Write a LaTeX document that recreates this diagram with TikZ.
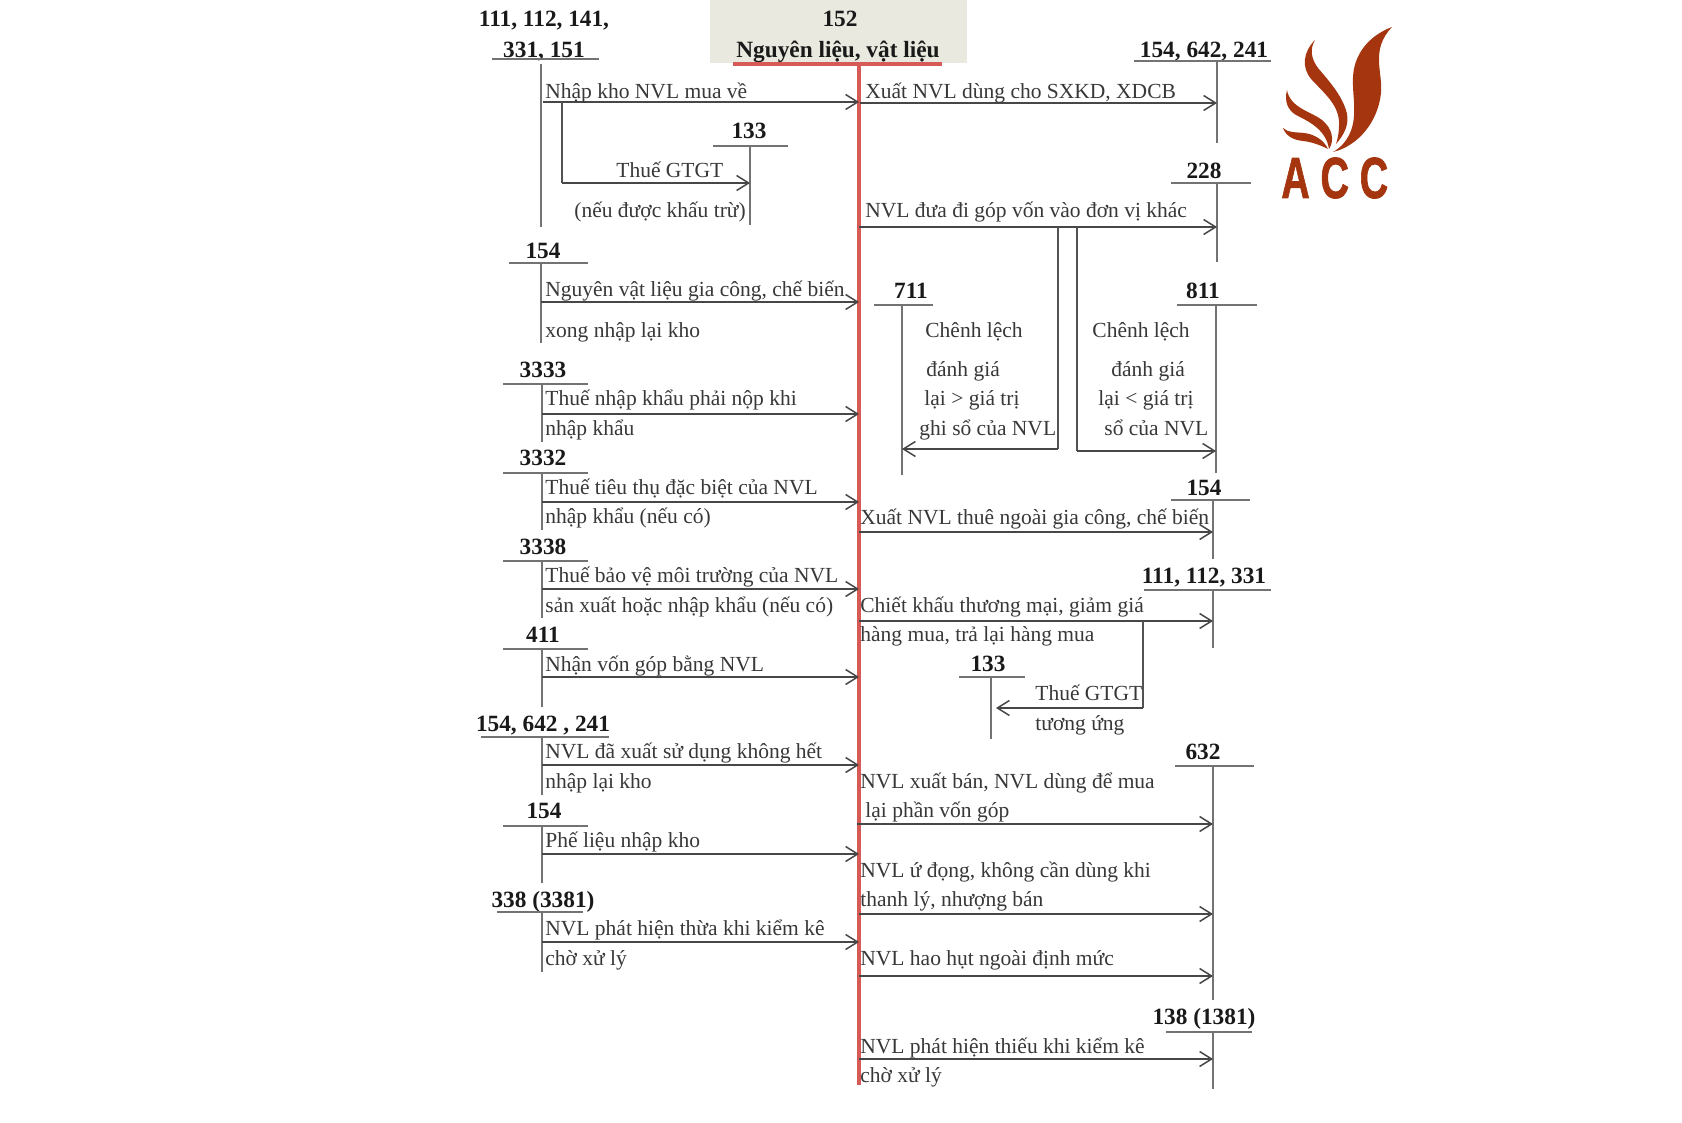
\documentclass[tikz,border=0pt]{standalone}
\usepackage{fontspec}
\setmainfont{Liberation Serif}
\newfontfamily\logofont[BoldFeatures={FakeBold=1.5}]{Liberation Sans}
\usepackage{xcolor}
\usetikzlibrary{arrows.meta}
\definecolor{boxgrey}{HTML}{E9E9DF}
\definecolor{mainred}{HTML}{D65A55}
\definecolor{logored}{HTML}{A5350F}

\begin{document}
\begin{tikzpicture}[
  x=0.5pt, y=-0.5pt,
  font=\fontsize{10.75}{13}\selectfont,
  txt/.style={anchor=base west, inner sep=0pt, text=black!78},
  acct/.style={anchor=base, inner sep=0pt, yshift=-0.7pt, font=\fontsize{11.65}{13}\selectfont\bfseries, text=black!90},
  bar/.style={draw=black!55, line width=0.9pt},
  stem/.style={draw=black!55, line width=0.95pt},
  arr/.style={-{Straight Barb[length=6pt,width=7.5pt]}, draw=black!72, line width=0.75pt},
  lnk/.style={draw=black!68, line width=0.75pt}
]
\useasboundingbox (0,0) rectangle (1682,1123);

% heading of the main account
\fill[boxgrey] (710,0) rectangle (967,63);
\node[acct] (h152) at (840,25) {152};
\node[acct] (hname) at (838,56) {Nguyên liệu, vật liệu};
\draw[mainred, line width=1.6pt] (733,64) -- (942,64);
\draw[mainred, line width=1.9pt] (859,64) coordinate (m) -- (859,1085) coordinate (mend);

% debit side, left of the main account
\node[acct] (a1x) at (544,25) {111, 112, 141,};
\node[acct] (a1) at (544,56) {331, 151};
\draw[bar] (492,59) -- (599,59);
\draw[stem] (541,64) coordinate (s1) -- (541,227) coordinate (e1);
\coordinate (n1) at (543,102);
\draw[arr] (n1) -- (n1 -| m);
\node[txt] (t1) at (545,99) {Nhập kho NVL mua về};

\node[acct] (a2) at (749,137) {133};
\draw[bar] (713,146) -- (788,146);
\draw[stem] (750,146) coordinate (s2) -- (750,225) coordinate (e2);
\coordinate (n2) at (562,102);
\coordinate (n2b) at (562,183);
\draw[lnk] (n2) -- (n2b);
\draw[arr] (n2b) -- (n2b -| s2);
\node[txt] (t2) at (616,178) {Thuế GTGT};
\node[txt] (t2b) at (574,218) {(nếu được khấu trừ)};

\node[acct] (a3) at (543,257) {154};
\draw[bar] (509,263) -- (588,263);
\draw[stem] (541,263) coordinate (s3) -- (541,343) coordinate (e3);
\coordinate (n3) at (541,302);
\draw[arr] (n3) -- (n3 -| m);
\node[txt] (t3) at (545,297) {Nguyên vật liệu gia công, chế biến};
\node[txt] (t3b) at (545,337) {xong nhập lại kho};

\node[acct] (a4) at (543,376) {3333};
\draw[bar] (503,384) -- (588,384);
\draw[stem] (542,384) coordinate (s4) -- (542,442) coordinate (e4);
\coordinate (n4) at (542,414);
\draw[arr] (n4) -- (n4 -| m);
\node[txt] (t4) at (545,406) {Thuế nhập khẩu phải nộp khi};
\node[txt] (t4b) at (545,435) {nhập khẩu};

\node[acct] (a5) at (543,464) {3332};
\draw[bar] (503,473) -- (588,473);
\draw[stem] (542,473) coordinate (s5) -- (542,530) coordinate (e5);
\coordinate (n5) at (542,502);
\draw[arr] (n5) -- (n5 -| m);
\node[txt] (t5) at (545,494) {Thuế tiêu thụ đặc biệt của NVL};
\node[txt] (t5b) at (545,523) {nhập khẩu (nếu có)};

\node[acct] (a6) at (543,553) {3338};
\draw[bar] (503,561) -- (588,561);
\draw[stem] (542,561) coordinate (s6) -- (542,618) coordinate (e6);
\coordinate (n6) at (542,589);
\draw[arr] (n6) -- (n6 -| m);
\node[txt] (t6) at (545,582) {Thuế bảo vệ môi trường của NVL};
\node[txt] (t6b) at (545,612) {sản xuất hoặc nhập khẩu (nếu có)};

\node[acct] (a7) at (543,641) {411};
\draw[bar] (503,649) -- (588,649);
\draw[stem] (542,649) coordinate (s7) -- (542,707) coordinate (e7);
\coordinate (n7) at (542,677);
\draw[arr] (n7) -- (n7 -| m);
\node[txt] (t7) at (545,671) {Nhận vốn góp bằng NVL};

\node[acct] (a8) at (543,730) {154, 642 , 241};
\draw[bar] (481,737) -- (609,737);
\draw[stem] (542,737) coordinate (s8) -- (542,795) coordinate (e8);
\coordinate (n8) at (542,765);
\draw[arr] (n8) -- (n8 -| m);
\node[txt] (t8) at (545,758) {NVL đã xuất sử dụng không hết};
\node[txt] (t8b) at (545,788) {nhập lại kho};

\node[acct] (a9) at (544,817) {154};
\draw[bar] (503,826) -- (588,826);
\draw[stem] (542,826) coordinate (s9) -- (542,883) coordinate (e9);
\coordinate (n9) at (542,854);
\draw[arr] (n9) -- (n9 -| m);
\node[txt] (t9) at (545,847) {Phế liệu nhập kho};

\node[acct] (a10) at (543,906) {338 (3381)};
\draw[bar] (497,912) -- (583,912);
\draw[stem] (542,912) coordinate (s10) -- (542,972) coordinate (e10);
\coordinate (n10) at (542,942);
\draw[arr] (n10) -- (n10 -| m);
\node[txt] (t10) at (545,935) {NVL phát hiện thừa khi kiểm kê};
\node[txt] (t10b) at (545,965) {chờ xử lý};

% credit side, right of the main account
\node[acct] (r1) at (1204,56) {154, 642, 241};
\draw[bar] (1134,61) -- (1271,61);
\draw[stem] (1217,61) coordinate (q1) -- (1217,143) coordinate (z1);
\coordinate (o1) at (860,103);
\draw[arr] (o1) -- (o1 -| q1);
\node[txt] (u1) at (865,99) {Xuất NVL dùng cho SXKD, XDCB};

\node[acct] (r2) at (1204,177) {228};
\draw[bar] (1171,183) -- (1251,183);
\draw[stem] (1217,183) coordinate (q2) -- (1217,262) coordinate (z2);
\coordinate (o2) at (859,227);
\draw[arr] (o2) -- (o2 -| q2);
\node[txt] (u2) at (865,218) {NVL đưa đi góp vốn vào đơn vị khác};

\node[acct] (r3) at (911,297) {711};
\draw[bar] (874,305) -- (933,305);
\draw[stem] (902,305) coordinate (q3) -- (902,475) coordinate (z3);
\coordinate (o3) at (1058,227);
\coordinate (o3b) at (1058,449);
\draw[lnk] (o3) -- (o3b);
\draw[arr] (o3b) -- (o3b -| q3);
\node[txt] (u3a) at (925,337) {Chênh lệch};
\node[txt] (u3b) at (926,377) {đánh giá};
\node[txt] (u3c) at (924,406) {lại > giá trị};
\node[txt] (u3d) at (919,435) {ghi sổ của NVL};

\node[acct] (r4) at (1203,297) {811};
\draw[bar] (1177,305) -- (1257,305);
\draw[stem] (1216,305) coordinate (q4) -- (1216,473) coordinate (z4);
\coordinate (o4) at (1077,227);
\coordinate (o4b) at (1077,451);
\draw[lnk] (o4) -- (o4b);
\draw[arr] (o4b) -- (o4b -| q4);
\node[txt] (u4a) at (1092,337) {Chênh lệch};
\node[txt] (u4b) at (1111,377) {đánh giá};
\node[txt] (u4c) at (1098,406) {lại < giá trị};
\node[txt] (u4d) at (1104,435) {sổ của NVL};

\node[acct] (r5) at (1204,494) {154};
\draw[bar] (1171,500) -- (1250,500);
\draw[stem] (1213,500) coordinate (q5) -- (1213,559) coordinate (z5);
\coordinate (o5) at (859,532);
\draw[arr] (o5) -- (o5 -| q5);
\node[txt] (u5) at (860,524) {Xuất NVL thuê ngoài gia công, chế biến};

\node[acct] (r6) at (1204,582) {111, 112, 331};
\draw[bar] (1144,590) -- (1271,590);
\draw[stem] (1213,590) coordinate (q6) -- (1213,648) coordinate (z6);
\coordinate (o6) at (859,621);
\draw[arr] (o6) -- (o6 -| q6);
\node[txt] (u6) at (860,612) {Chiết khấu thương mại, giảm giá};
\node[txt] (u6b) at (860,641) {hàng mua, trả lại hàng mua};

\node[acct] (r7) at (988,670) {133};
\draw[bar] (959,677) -- (1025,677);
\draw[stem] (991,677) coordinate (q7) -- (991,739) coordinate (z7);
\coordinate (o7) at (1143,621);
\coordinate (o7b) at (1143,708);
\draw[lnk] (o7) -- (o7b);
\coordinate (q7b) at (996,708);
\draw[arr] (o7b) -- (q7b);
\node[txt] (u7) at (1035,700) {Thuế GTGT};
\node[txt] (u7b) at (1035,730) {tương ứng};

\node[acct] (r8) at (1203,758) {632};
\draw[bar] (1175,766) -- (1254,766);
\draw[stem] (1213,766) coordinate (q8) -- (1213,1000) coordinate (z8);
\coordinate (o8) at (857,824);
\draw[arr] (o8) -- (o8 -| q8);
\node[txt] (u8) at (860,788) {NVL xuất bán, NVL dùng để mua};
\node[txt] (u8b) at (865,817) {lại phần vốn góp};
\coordinate (o9) at (859,914);
\draw[arr] (o9) -- (o9 -| q8);
\node[txt] (u9) at (860,877) {NVL ứ đọng, không cần dùng khi};
\node[txt] (u9b) at (860,906) {thanh lý, nhượng bán};
\coordinate (o10) at (859,976);
\draw[arr] (o10) -- (o10 -| q8);
\node[txt] (u10) at (860,965) {NVL hao hụt ngoài định mức};

\node[acct] (r9) at (1204,1023) {138 (1381)};
\draw[bar] (1166,1032) -- (1252,1032);
\draw[stem] (1213,1032) coordinate (q9) -- (1213,1089) coordinate (z9);
\coordinate (o11) at (859,1059);
\draw[arr] (o11) -- (o11 -| q9);
\node[txt] (u11) at (860,1053) {NVL phát hiện thiếu khi kiểm kê};
\node[txt] (u11b) at (860,1082) {chờ xử lý};

% logo: four petals and the letters
\fill[logored] (1392,27) .. controls (1368,36) and (1354,55) .. (1353,77)
  .. controls (1352,95) and (1358,115) .. (1350,133)
  .. controls (1346,142) and (1340,148) .. (1333,152)
  .. controls (1358,146) and (1378,122) .. (1381,93)
  .. controls (1383,72) and (1370,50) .. (1392,27) -- cycle;
\fill[logored] (1315,40) .. controls (1303,52) and (1301,68) .. (1312,80)
  .. controls (1325,94) and (1340,106) .. (1339,125)
  .. controls (1339,132) and (1338,138) .. (1336,144)
  .. controls (1344,135) and (1349,125) .. (1347,114)
  .. controls (1343,96) and (1328,80) .. (1318,68)
  .. controls (1312,60) and (1309,50) .. (1315,40) -- cycle;
\fill[logored] (1287,90) .. controls (1284,102) and (1288,110) .. (1296,115)
  .. controls (1310,122) and (1326,130) .. (1329,149)
  .. controls (1335,140) and (1332,128) .. (1322,120)
  .. controls (1312,112) and (1290,108) .. (1287,90) -- cycle;
\fill[logored] (1283,128) .. controls (1286,136) and (1293,140) .. (1303,141)
  .. controls (1312,142) and (1320,145) .. (1328,149)
  .. controls (1324,140) and (1314,134) .. (1304,133)
  .. controls (1296,132) and (1288,133) .. (1283,128) -- cycle;
\node[anchor=base west, inner sep=0pt, xscale=0.68, text=logored, font=\logofont\bfseries\fontsize{29}{30}\selectfont] (acc) at (1281,198) {\spaceskip=7.9pt A C C};
\end{tikzpicture}
\end{document}
